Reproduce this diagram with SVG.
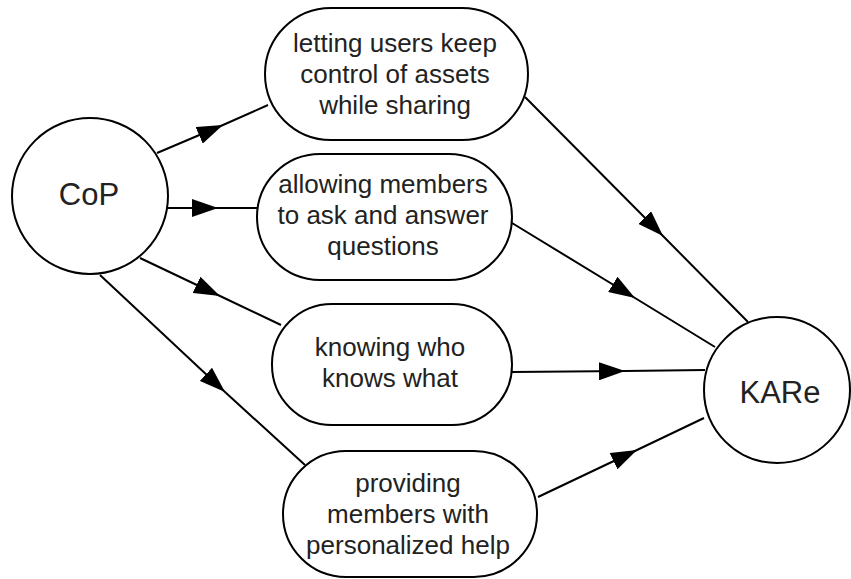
<svg xmlns="http://www.w3.org/2000/svg" width="851" height="579" viewBox="0 0 851 579">
<defs>
<style>
.shape{fill:#fff;stroke:#000;stroke-width:2}
.edge{fill:none;stroke:#000;stroke-width:2}
.lbl{font-family:"Liberation Sans",Arial,sans-serif;font-size:26px;fill:#222;text-anchor:middle}
.big{font-size:31px}
</style>
<marker id="arr" viewBox="0 0 26 18" refX="26" refY="9" markerWidth="26" markerHeight="18" markerUnits="userSpaceOnUse" orient="auto">
<path d="M0,0 L26,9 L0,18 Z" fill="#000"/>
</marker>
</defs>
<g id="connectors">
<path class="edge" d="M157,153 L223,125 L268,105" marker-mid="url(#arr)"/>
<path class="edge" d="M162,208 L218,208 L257,208" marker-mid="url(#arr)"/>
<path class="edge" d="M140,258 L220,296 L281,325" marker-mid="url(#arr)"/>
<path class="edge" d="M100,275 L225,392 L305,465" marker-mid="url(#arr)"/>
<path class="edge" d="M525,97 L663,236 L748,322" marker-mid="url(#arr)"/>
<path class="edge" d="M512,223 L635,298 L715,347" marker-mid="url(#arr)"/>
<path class="edge" d="M512,372 L625,371 L705,370" marker-mid="url(#arr)"/>
<path class="edge" d="M538,497 L637,450 L704,418" marker-mid="url(#arr)"/>
</g>
<g id="cop">
<circle class="shape" cx="90" cy="196" r="78"/>
<text class="lbl big" x="89" y="205">CoP</text>
</g>
<g id="kare">
<circle class="shape" cx="777" cy="390" r="73"/>
<text class="lbl big" x="780" y="403">KARe</text>
</g>
<g id="n1">
<rect class="shape" x="265" y="8" width="263" height="132" rx="66" ry="66"/>
<text class="lbl" x="395" y="52">letting users keep</text>
<text class="lbl" x="395" y="83">control of assets</text>
<text class="lbl" x="395" y="114">while sharing</text>
</g>
<g id="n2">
<rect class="shape" x="257" y="154" width="255" height="126" rx="63" ry="63"/>
<text class="lbl" x="383" y="193">allowing members</text>
<text class="lbl" x="383" y="224">to ask and answer</text>
<text class="lbl" x="383" y="255">questions</text>
</g>
<g id="n3">
<rect class="shape" x="272" y="304" width="240" height="121" rx="60" ry="60"/>
<text class="lbl" x="390" y="356">knowing who</text>
<text class="lbl" x="390" y="387">knows what</text>
</g>
<g id="n4">
<rect class="shape" x="283" y="451" width="254" height="126" rx="63" ry="63"/>
<text class="lbl" x="408" y="492">providing</text>
<text class="lbl" x="408" y="523">members with</text>
<text class="lbl" x="408" y="554">personalized help</text>
</g>
</svg>
